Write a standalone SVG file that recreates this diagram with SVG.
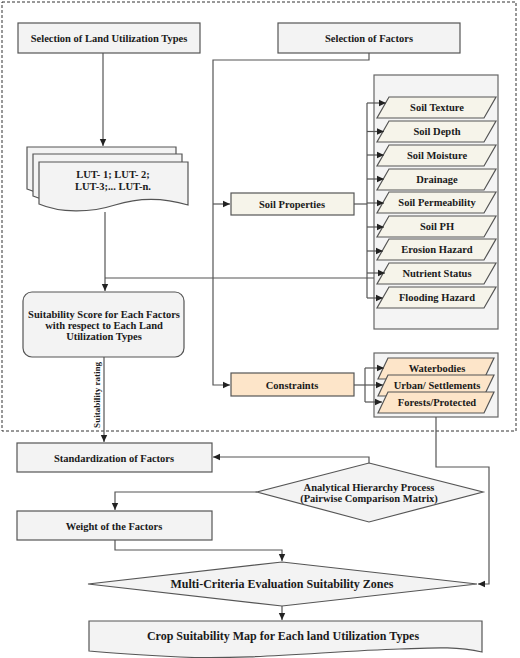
<svg xmlns="http://www.w3.org/2000/svg" width="520" height="658" viewBox="0 0 520 658">
<defs>
<marker id="arr" markerWidth="8" markerHeight="8" refX="7" refY="4" orient="auto" markerUnits="userSpaceOnUse">
<path d="M0,0.8 L7,4 L0,7.2 z" fill="#222"/>
</marker>
<style>
text{font-family:"Liberation Serif","Times New Roman",serif;font-weight:bold;fill:#1a1a1a;text-anchor:middle;dominant-baseline:central;font-size:10.5px}
.box{fill:#f3f3f3;stroke:#555;stroke-width:1.2}
.soil{fill:#f6f4ea;stroke:#555;stroke-width:1.2}
.con{fill:#fde5c9;stroke:#555;stroke-width:1.2}
.cont{fill:#f4f4f4;stroke:#666;stroke-width:1.2}
.ln{fill:none;stroke:#555;stroke-width:1.2}
.ar{fill:none;stroke:#555;stroke-width:1.2;marker-end:url(#arr)}
.big{font-size:12px}
.rot{font-size:9px}
</style>
</defs>
<rect x="2" y="2" width="514" height="429" fill="none" stroke="#333" stroke-width="1" stroke-dasharray="3,2"/>

<g id="lut-select">
<rect class="box" x="18" y="23" width="182" height="30"/>
<text x="109" y="38">Selection of Land Utilization Types</text>
</g>

<g id="factor-select">
<rect class="box" x="278" y="23" width="182" height="30"/>
<text x="369" y="38">Selection of Factors</text>
</g>

<g id="lut-docs">
<path class="box" d="M27,147 H176 V190 C153,183 128,182 103,190 C78,198 48,198 27,189 Z"/>
<path class="box" d="M33,154 H182 V197 C159,190 134,189 109,197 C84,205 54,205 33,196 Z"/>
<path class="box" d="M39,162 H188 V205 C165,198 140,197 115,205 C90,213 60,213 39,204 Z"/>
<text x="113" y="174">LUT- 1; LUT- 2;</text>
<text x="113" y="186">LUT-3;... LUT-n.</text>
</g>

<g id="suitability-score">
<rect class="box" x="23" y="292" width="161" height="65" rx="9" ry="9"/>
<text x="104" y="314">Suitability Score for Each Factors</text>
<text x="104" y="325">with respect to Each Land</text>
<text x="104" y="336">Utilization Types</text>
</g>

<g id="soil-properties">
<rect class="soil" x="231" y="193" width="123" height="22"/>
<text x="292" y="204">Soil Properties</text>
</g>

<g id="constraints">
<rect class="con" x="231" y="373" width="123" height="23"/>
<text x="292" y="385">Constraints</text>
</g>

<g id="soil-list">
<rect class="cont" x="374" y="75" width="124" height="254"/>
<polygon class="soil" points="389,97 496,97 484,118 377,118"/>
<text x="437" y="107.5">Soil Texture</text>
<polygon class="soil" points="389,121 496,121 484,142 377,142"/>
<text x="437" y="131.5">Soil Depth</text>
<polygon class="soil" points="389,145 496,145 484,166 377,166"/>
<text x="437" y="155.5">Soil Moisture</text>
<polygon class="soil" points="389,169 496,169 484,190 377,190"/>
<text x="437" y="179.5">Drainage</text>
<polygon class="soil" points="389,192 496,192 484,213 377,213"/>
<text x="437" y="202.5">Soil Permeability</text>
<polygon class="soil" points="389,216 496,216 484,237 377,237"/>
<text x="437" y="226.5">Soil PH</text>
<polygon class="soil" points="389,239 496,239 484,260 377,260"/>
<text x="437" y="249.5">Erosion Hazard</text>
<polygon class="soil" points="389,263 496,263 484,284 377,284"/>
<text x="437" y="273.5">Nutrient Status</text>
<polygon class="soil" points="389,287 496,287 484,308 377,308"/>
<text x="437" y="297.5">Flooding Hazard</text>
</g>

<g id="constraint-list">
<rect class="cont" x="374" y="353" width="124" height="64"/>
<polygon class="con" points="388,358 494,358 484,379 378,379"/>
<text x="437" y="368">Waterbodies</text>
<polygon class="con" points="388,375 494,375 484,396 378,396"/>
<text x="437" y="385">Urban/ Settlements</text>
<polygon class="con" points="388,392 494,392 484,413 378,413"/>
<text x="437" y="402">Forests/Protected</text>
</g>

<g id="standardization">
<rect class="box" x="17" y="443" width="195" height="29"/>
<text x="114" y="458">Standardization of Factors</text>
</g>

<g id="ahp">
<polygon class="box" points="369,463 483,492 369,522 257,492"/>
<text x="369" y="487">Analytical Hierarchy Process</text>
<text x="369" y="498">(Pairwise Comparison Matrix)</text>
</g>

<g id="weight">
<rect class="box" x="17" y="511" width="195" height="29"/>
<text x="114" y="526">Weight of the Factors</text>
</g>

<g id="mce">
<polygon class="box" points="282,562 477,584 282,606 88,584"/>
<text class="big" x="282" y="584">Multi-Criteria Evaluation Suitability Zones</text>
</g>

<g id="crop-map">
<path class="box" d="M89,621 H482 V652 C455,646 430,648 400,649 C330,651 250,660 180,657 C140,655 110,653 89,651 Z"/>
<text class="big" x="283" y="636">Crop Suitability Map for Each land Utilization Types</text>
</g>

<g id="connectors">
<path class="ar" d="M103,53 V146"/>
<path class="ar" d="M369,53 V60 H213 V385 H230"/>
<path class="ar" d="M213,204 H230"/>
<path class="ln" d="M354,204 H367"/>
<path class="ln" d="M367,103 V298"/>
<path class="ar" d="M367,103 H386"/>
<path class="ar" d="M367,131.5 H384"/>
<path class="ar" d="M367,155 H384"/>
<path class="ar" d="M367,179 H384"/>
<path class="ar" d="M367,203 H384"/>
<path class="ar" d="M367,227 H384"/>
<path class="ar" d="M367,251 H383"/>
<path class="ar" d="M367,273 H385"/>
<path class="ar" d="M367,298 H383"/>
<path class="ln" d="M374,278 H105"/>
<path class="ar" d="M105,212 V291"/>
<path class="ar" d="M104,357 V442"/>
<text class="rot" x="0" y="0" transform="translate(97,395) rotate(-90)">Suitability rating</text>
<path class="ln" d="M354,385 H365"/>
<path class="ln" d="M365,368 V402"/>
<path class="ar" d="M365,368 H384"/>
<path class="ar" d="M365,385 H383"/>
<path class="ar" d="M365,402 H382"/>
<path class="ar" d="M436,417 V467 H489 V584 H478"/>
<path class="ar" d="M369,463 V457 H213"/>
<path class="ar" d="M257,492 H115 V510"/>
<path class="ar" d="M115,540 V550 H282 V561"/>
<path class="ar" d="M282,606 V620"/>
</g>
</svg>
